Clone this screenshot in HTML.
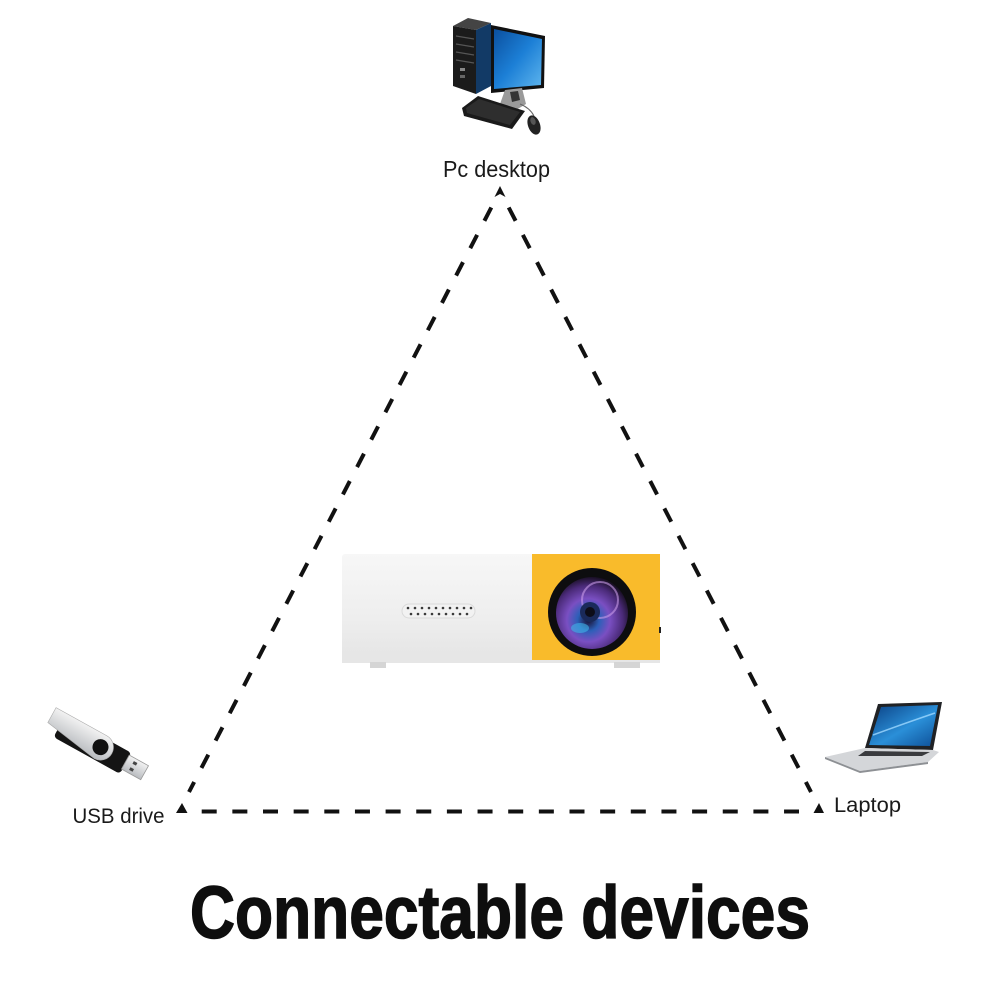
<!DOCTYPE html>
<html>
<head>
<meta charset="utf-8">
<style>
  html,body{margin:0;padding:0;background:#fff;}
  svg{display:block;}
  text{font-family:"Liberation Sans", sans-serif;}
</style>
</head>
<body>
<svg width="1001" height="1001" viewBox="0 0 1001 1001" xmlns="http://www.w3.org/2000/svg">
  <defs>
    <linearGradient id="scr" x1="0" y1="0" x2="1" y2="1">
      <stop offset="0" stop-color="#0b4f9e"/>
      <stop offset="0.5" stop-color="#1c7fd6"/>
      <stop offset="1" stop-color="#5fb6ee"/>
    </linearGradient>
    <linearGradient id="lscr" x1="0" y1="0" x2="1" y2="1">
      <stop offset="0" stop-color="#0a3f82"/>
      <stop offset="0.55" stop-color="#2a8fd8"/>
      <stop offset="1" stop-color="#0d4e96"/>
    </linearGradient>
    <linearGradient id="silver" x1="0" y1="0" x2="0" y2="1">
      <stop offset="0" stop-color="#f2f2f2"/>
      <stop offset="1" stop-color="#b9bcc0"/>
    </linearGradient>
    <linearGradient id="body" x1="0" y1="0" x2="0" y2="1">
      <stop offset="0" stop-color="#f7f7f7"/>
      <stop offset="0.6" stop-color="#eeeeee"/>
      <stop offset="1" stop-color="#e4e4e4"/>
    </linearGradient>
    <radialGradient id="lens" cx="0.45" cy="0.6" r="0.6">
      <stop offset="0" stop-color="#1a1030"/>
      <stop offset="0.25" stop-color="#2c5fb8"/>
      <stop offset="0.5" stop-color="#7a4fc2"/>
      <stop offset="0.8" stop-color="#4a2a78"/>
      <stop offset="1" stop-color="#1a1026"/>
    </radialGradient>
  </defs>

  <!-- ===== PC desktop icon ===== -->
  <g>
    <!-- tower -->
    <polygon points="453,26 468,18 491,23 476,30" fill="#444"/>
    <polygon points="453,26 476,30 476,94 453,86" fill="#1b1b1b"/>
    <polygon points="476,30 491,23 491,86 476,94" fill="#123a66"/>
    <g stroke="#555" stroke-width="1.2">
      <line x1="456" y1="36" x2="474" y2="39"/>
      <line x1="456" y1="44" x2="474" y2="47"/>
      <line x1="456" y1="52" x2="474" y2="55"/>
      <line x1="456" y1="60" x2="474" y2="63"/>
    </g>
    <rect x="460" y="68" width="5" height="3" fill="#888"/>
    <rect x="460" y="75" width="5" height="3" fill="#666"/>
    <!-- monitor -->
    <polygon points="491,25 545,36 544,88 491,93" fill="#111"/>
    <polygon points="494,29 542,39 541,85 494,89" fill="url(#scr)"/>
    <!-- stand -->
    <polygon points="505,90 522,88 526,104 516,110 500,104" fill="#9a9a9a"/>
    <polygon points="510,92 518,91 520,100 512,102" fill="#333"/>
    <!-- keyboard -->
    <polygon points="462,108 478,96 525,111 512,129 464,116" fill="#1a1a1a"/>
    <polygon points="466,108 479,99 520,112 510,125 467,113" fill="#2e2e2e"/>
    <!-- mouse -->
    <path d="M520,104 Q530,108 534,116" stroke="#666" stroke-width="1" fill="none"/>
    <ellipse cx="534" cy="125" rx="6" ry="10" transform="rotate(-20 534 125)" fill="#222"/>
    <ellipse cx="533" cy="121" rx="2.5" ry="4" transform="rotate(-20 533 121)" fill="#555"/>
  </g>

  <!-- ===== Projector ===== -->
  <g>
    <rect x="342" y="554" width="192" height="108" rx="3" fill="url(#body)"/>
    <rect x="342" y="654" width="318" height="9" fill="#e6e6e6"/>
    <rect x="532" y="554" width="128" height="106" fill="#f9bb2b"/>
    <rect x="370" y="662" width="16" height="6" fill="#d5d5d5"/>
    <rect x="614" y="662" width="26" height="6" fill="#d5d5d5"/>
    <rect x="659" y="627" width="2" height="6" fill="#222"/>
    <!-- grille -->
    <rect x="402" y="604" width="73" height="14" rx="7" fill="#f2f2f2" stroke="#dadada" stroke-width="1"/>
    <g fill="#3a3a3a">
      <circle cx="408" cy="608" r="1.3"/><circle cx="415" cy="608" r="1.3"/><circle cx="422" cy="608" r="1.3"/><circle cx="429" cy="608" r="1.3"/><circle cx="436" cy="608" r="1.3"/><circle cx="443" cy="608" r="1.3"/><circle cx="450" cy="608" r="1.3"/><circle cx="457" cy="608" r="1.3"/><circle cx="464" cy="608" r="1.3"/><circle cx="471" cy="608" r="1.3"/>
      <circle cx="411" cy="614" r="1.3"/><circle cx="418" cy="614" r="1.3"/><circle cx="425" cy="614" r="1.3"/><circle cx="432" cy="614" r="1.3"/><circle cx="439" cy="614" r="1.3"/><circle cx="446" cy="614" r="1.3"/><circle cx="453" cy="614" r="1.3"/><circle cx="460" cy="614" r="1.3"/><circle cx="467" cy="614" r="1.3"/>
    </g>
    <!-- lens -->
    <circle cx="592" cy="612" r="44" fill="#0d0d0f"/>
    <circle cx="592" cy="613" r="36" fill="url(#lens)"/>
    <circle cx="600" cy="600" r="18" fill="none" stroke="#c89be8" stroke-width="2" opacity="0.6"/>
    <circle cx="590" cy="612" r="10" fill="#1a2a5a"/>
    <circle cx="590" cy="612" r="5" fill="#0d0d18"/>
    <ellipse cx="580" cy="628" rx="9" ry="5" fill="#3fb4e8" opacity="0.6"/>
  </g>

  <!-- ===== USB drive ===== -->
  <g transform="translate(100,748) rotate(29)">
    <rect x="-46" y="-11" width="76" height="24" rx="4" fill="#141414"/>
    <rect x="29" y="-8" width="22" height="16" fill="url(#silver)" stroke="#9a9a9a" stroke-width="0.8"/>
    <rect x="36" y="-5" width="4" height="3" fill="#444"/>
    <rect x="36" y="2" width="4" height="3" fill="#444"/>
    <path d="M-58,-14 L0,-14 A13,13 0 0 1 0,12 L-58,3 Z" fill="url(#silver)" stroke="#aaa" stroke-width="0.6"/>
    <circle cx="0" cy="-1" r="8" fill="#111"/>
  </g>

  <!-- ===== Laptop ===== -->
  <g>
    <polygon points="878,704 942,702 933,750 865,748" fill="#202225"/>
    <polygon points="881,707 938,705 930,746 869,745" fill="url(#lscr)"/>
    <path d="M873,735 Q900,725 935,713" stroke="#9fd8ff" stroke-width="1.5" fill="none" opacity="0.8"/>
    <polygon points="825,757 865,748 933,750 939,752 928,762 860,771" fill="#d4d6d9"/>
    <polygon points="860,771 928,762 928,764 860,773 825,759 825,757" fill="#8d9094"/>
    <polygon points="865,751 930,752 922,756 858,756" fill="#3a3b3e"/>
  </g>

  <!-- ===== Dashed triangle ===== -->
  <g stroke="#111" stroke-width="4" fill="none" stroke-linecap="butt">
    <line x1="491.3" y1="207.5" x2="189" y2="792" stroke-dasharray="15 15.8"/>
    <line x1="508.7" y1="207.5" x2="811" y2="792" stroke-dasharray="15 15.8"/>
    <line x1="201.7" y1="811.5" x2="799" y2="811.5" stroke-dasharray="15 15.65"/>
  </g>
  <g fill="#111">
    <polygon points="500,186 505.5,197 500,194 494.5,197"/>
    <polygon points="182,803 187.5,813 176,813"/>
    <polygon points="819,803 824,813 813.5,813"/>
  </g>

  <!-- ===== Labels ===== -->
  <text x="443" y="177" font-size="23" fill="#1a1a1a" textLength="107" lengthAdjust="spacingAndGlyphs">Pc desktop</text>
  <text x="72.5" y="823" font-size="21" fill="#1a1a1a" textLength="92" lengthAdjust="spacingAndGlyphs">USB drive</text>
  <text x="834" y="812" font-size="21" fill="#1a1a1a" textLength="67" lengthAdjust="spacingAndGlyphs">Laptop</text>

  <text x="190" y="938" font-size="74" font-weight="bold" fill="#0e0e0e" stroke="#0e0e0e" stroke-width="1.5" textLength="620" lengthAdjust="spacingAndGlyphs">Connectable devices</text>
</svg>
</body>
</html>
